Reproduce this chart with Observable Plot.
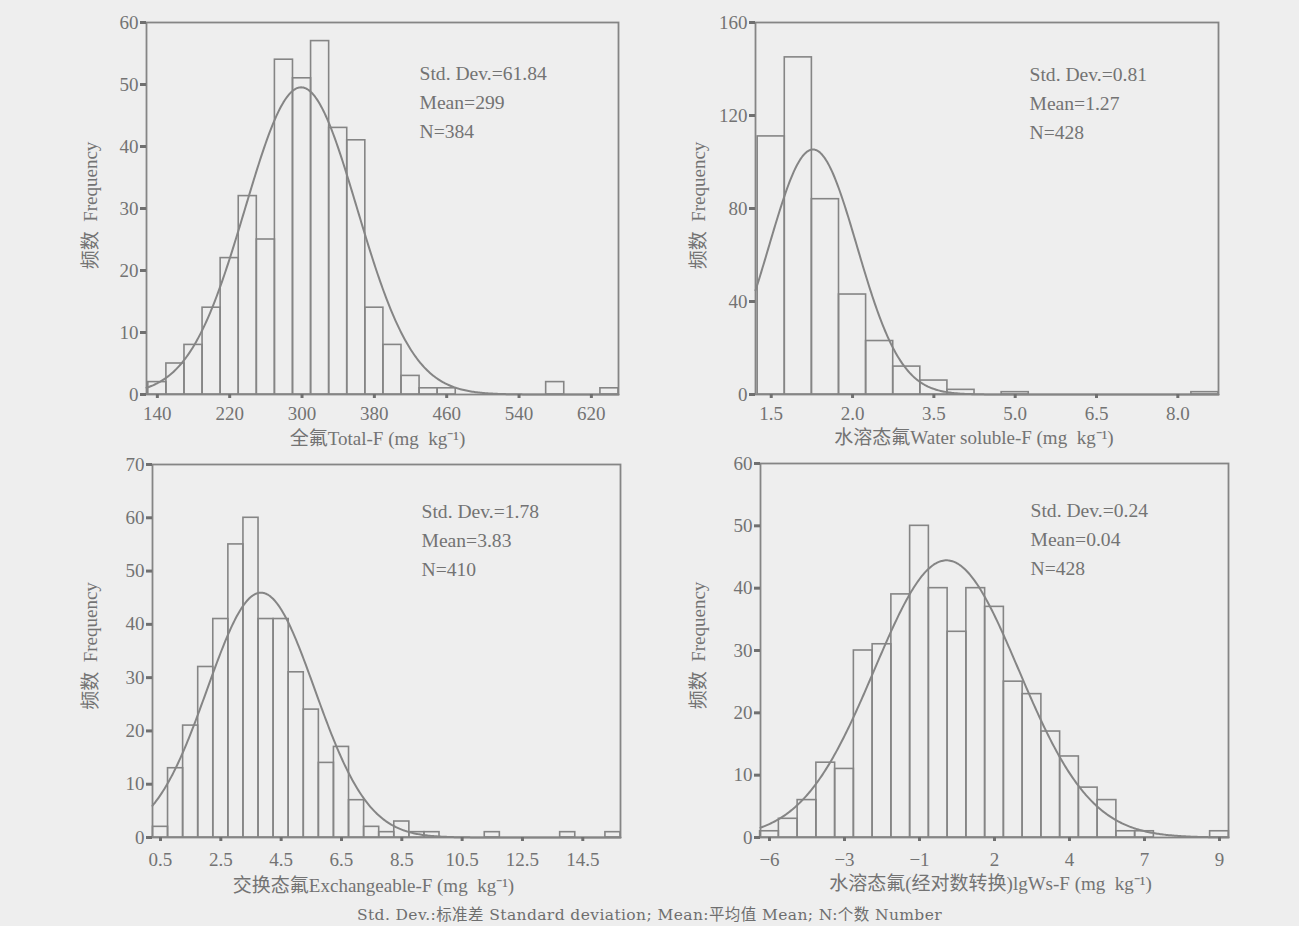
<!DOCTYPE html>
<html><head><meta charset="utf-8">
<script src="https://cdn.jsdelivr.net/npm/d3@7"></script>
<script src="https://cdn.jsdelivr.net/npm/@observablehq/plot@0.6"></script>
<style>
html,body{margin:0;padding:0;background:#eeeeee;}
#wrap{position:relative;width:1299px;height:926px;background:#eeeeee;overflow:hidden;}
.panel{position:absolute;}
#caption{position:absolute;left:0;width:1299px;top:906px;height:19px;line-height:19px;text-align:center;font-family:"DejaVu Serif","Liberation Serif","Noto Sans CJK SC",serif;font-size:15.5px;letter-spacing:0.4px;color:#6e6e6e;white-space:pre;}
</style></head><body>
<div id="wrap"><div id="caption"></div></div>
<script>
// ---------- data ----------
const yTitle = "频数  Frequency";
const caption = "Std. Dev.:标准差 Standard deviation; Mean:平均值 Mean; N:个数 Number";

// Panel 1: total F
const p1Title = "全氟Total-F (mg\u00a0 kg⁻¹)";
const p1BinStart = 130, p1BinWidth = 20;
const p1Counts = [2,5,8,14,22,32,25,54,51,57,43,41,14,8,3,1,1,0,0,0,0,0,2,0,0,1];
const p1TickPos = [140,220,300,380,460,540,620];
const p1TickLabels = ["140","220","300","380","460","540","620"];
const p1YTicks = [0,10,20,30,40,50,60];
const p1Stats = {sd: 61.84, mean: 299, n: 384};

// Panel 2: water soluble F
const p2Title = "水溶态氟Water soluble-F (mg\u00a0 kg⁻¹)";
const p2BinStart = 0.25, p2BinWidth = 0.5;
const p2Counts = [111,145,84,43,23,12,6,2,0,1,0,0,0,0,0,0,1];
const p2TickPos = [0.5,2.0,3.5,5.0,6.5,8.0];
const p2TickLabels = ["1.5","2.0","3.5","5.0","6.5","8.0"];
const p2YTicks = [0,40,80,120,160];
const p2Stats = {sd: 0.81, mean: 1.27, n: 428};

// Panel 3: exchangeable F
const p3Title = "交换态氟Exchangeable-F (mg\u00a0 kg⁻¹)";
const p3BinStart = 0.25, p3BinWidth = 0.5;
const p3Counts = [2,13,21,32,41,55,60,41,41,31,24,14,17,7,2,1,3,1,1,0,0,0,1,0,0,0,0,1,0,0,1];
const p3TickPos = [0.5,2.5,4.5,6.5,8.5,10.5,12.5,14.5];
const p3TickLabels = ["0.5","2.5","4.5","6.5","8.5","10.5","12.5","14.5"];
const p3YTicks = [0,10,20,30,40,50,60,70];
const p3Stats = {sd: 1.78, mean: 3.83, n: 410};

// Panel 4: log-transformed water soluble F
const p4Title = "水溶态氟(经对数转换)lgWs-F (mg\u00a0 kg⁻¹)";
const p4BinStart = -0.58125, p4BinWidth = 0.0625;
const p4Counts = [1,3,6,12,11,30,31,39,50,40,33,40,37,25,23,17,13,8,6,1,1,0,0,0,1];
const p4TickPos = [-0.55,-0.30,-0.05,0.20,0.45,0.70,0.95];
const p4TickLabels = ["−6","−3","−1","2","4","7","9"];
const p4YTicks = [0,10,20,30,40,50,60];
const p4Stats = {sd: 0.24, mean: 0.04, n: 428};

// ---------- drawing ----------
const LINE = "#858585", TICK = "#707070", TEXT = "#737373";
const FONT = '"Liberation Serif","Times New Roman","Noto Sans CJK SC",serif';

function panel(c) {
  const bins = c.counts.map((n, i) => ({x1: c.binStart + i * c.binWidth, x2: c.binStart + (i + 1) * c.binWidth, n})).filter(d => d.n > 0);
  const [a, b] = c.xDomain;
  const s = c.stats;
  const curve = d3.range(0, 401).map(k => {
    const x = a + (b - a) * k / 400;
    return {x, y: s.n * c.binWidth * Math.exp(-0.5 * ((x - s.mean) / s.sd) ** 2) / (s.sd * Math.sqrt(2 * Math.PI))};
  });
  const statsText = `Std. Dev.=${s.sd}\nMean=${s.mean}\nN=${s.n}`;
  return Plot.plot({
    width: c.w, height: c.h,
    marginLeft: c.ml, marginRight: c.mr, marginTop: c.mt, marginBottom: c.mb,
    x: {domain: c.xDomain},
    y: {domain: c.yDomain},
    style: {background: "transparent", color: TEXT, fontFamily: FONT, fontSize: "19px", overflow: "visible"},
    marks: [
      Plot.rect(bins, {x1: "x1", x2: "x2", y1: 0, y2: "n", fill: "none", stroke: LINE, strokeWidth: 1.6}),
      Plot.line(curve, {x: "x", y: "y", stroke: LINE, strokeWidth: 2}),
      Plot.frame({stroke: LINE, strokeWidth: 1.8}),
      Plot.axisX(c.xTicks, {tickFormat: d => c.xLabels[c.xTicks.indexOf(d)], tickSize: 4, tickPadding: c.xPad, strokeWidth: 3, stroke: TICK, fontSize: 19, label: null}),
      Plot.axisY(c.yTicks, {tickSize: 6, tickPadding: 2, strokeWidth: 3, stroke: TICK, fontSize: 19, label: null}),
      Plot.text([yTitle], {text: d => d, frameAnchor: "left", textAnchor: "middle", lineAnchor: "middle", rotate: -90, dx: c.yTitleDx, dy: c.yTitleDy, fontSize: 19, fill: TEXT}),
      Plot.text([c.title], {text: d => d, frameAnchor: "bottom", textAnchor: "middle", lineAnchor: "middle", dx: c.titleDx, dy: c.titleDy, fontSize: 19, fill: TEXT}),
      Plot.text([statsText], {text: d => d, frameAnchor: "top-left", textAnchor: "start", lineAnchor: "top", lineHeight: 1.47, dx: c.statsDx, dy: c.statsDy, fontSize: 19.6, fill: TEXT})
    ]
  });
}

const configs = [
  {left: 0, top: 0, w: 640, h: 455, ml: 146, mr: 22, mt: 22, mb: 61,
   counts: p1Counts, binStart: p1BinStart, binWidth: p1BinWidth, xDomain: [128, 650], yDomain: [0, 60],
   xTicks: p1TickPos, xLabels: p1TickLabels, yTicks: p1YTicks, stats: p1Stats, title: p1Title,
   xPad: 8, yTitleDx: -56, yTitleDy: -3, titleDx: -5, titleDy: 44, statsDx: 273, statsDy: 37},
  {left: 640, top: 0, w: 659, h: 455, ml: 115, mr: 81, mt: 22, mb: 61,
   counts: p2Counts, binStart: p2BinStart, binWidth: p2BinWidth, xDomain: [0.21, 8.75], yDomain: [0, 160],
   xTicks: p2TickPos, xLabels: p2TickLabels, yTicks: p2YTicks, stats: p2Stats, title: p2Title,
   xPad: 8, yTitleDx: -57, yTitleDy: -3, titleDx: -13, titleDy: 43, statsDx: 274, statsDy: 38},
  {left: 0, top: 455, w: 640, h: 440, ml: 152, mr: 20, mt: 9, mb: 58,
   counts: p3Counts, binStart: p3BinStart, binWidth: p3BinWidth, xDomain: [0.235, 15.75], yDomain: [0, 70],
   xTicks: p3TickPos, xLabels: p3TickLabels, yTicks: p3YTicks, stats: p3Stats, title: p3Title,
   xPad: 11, yTitleDx: -62, yTitleDy: -5, titleDx: -13, titleDy: 48, statsDx: 269, statsDy: 33},
  {left: 640, top: 455, w: 659, h: 440, ml: 120, mr: 71, mt: 8, mb: 58,
   counts: p4Counts, binStart: p4BinStart, binWidth: p4BinWidth, xDomain: [-0.58, 0.98], yDomain: [0, 60],
   xTicks: p4TickPos, xLabels: p4TickLabels, yTicks: p4YTicks, stats: p4Stats, title: p4Title,
   xPad: 11, yTitleDx: -62, yTitleDy: -5, titleDx: -4, titleDy: 46, statsDx: 270, statsDy: 33}
];

const wrap = document.getElementById("wrap");
for (const c of configs) {
  const div = document.createElement("div");
  div.className = "panel";
  div.style.left = c.left + "px";
  div.style.top = c.top + "px";
  div.appendChild(panel(c));
  wrap.appendChild(div);
}
document.getElementById("caption").textContent = caption;
</script>
</body></html>
